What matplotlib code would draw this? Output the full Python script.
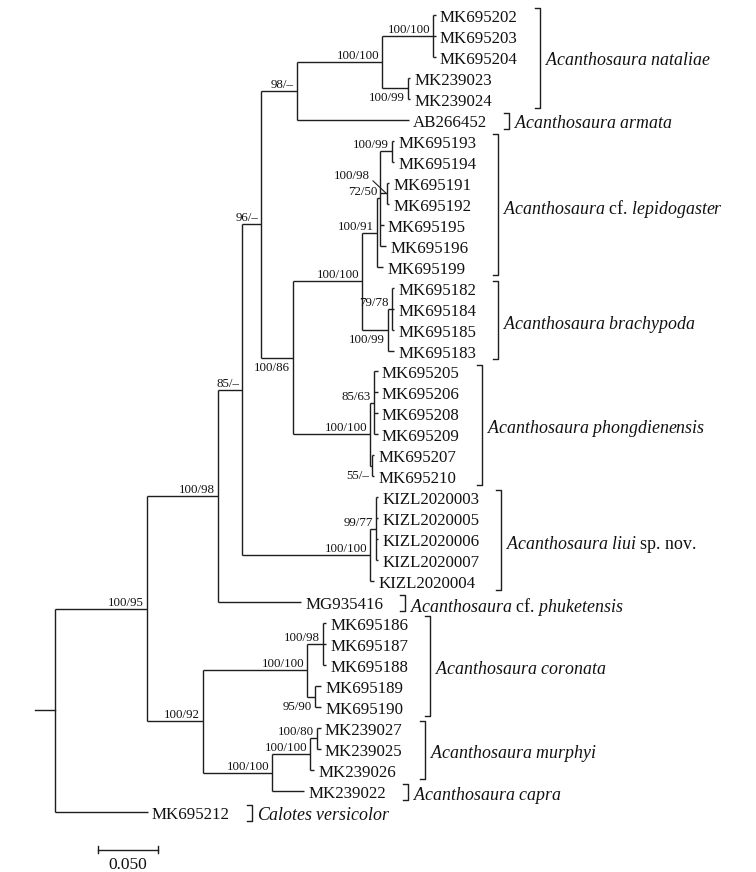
import matplotlib
matplotlib.use('Agg')
import matplotlib.pyplot as plt

plt.rcParams['font.family'] = ['Liberation Serif', 'DejaVu Serif']
plt.rcParams['mathtext.fontset'] = 'custom'
plt.rcParams['mathtext.rm'] = 'Liberation Serif'
plt.rcParams['mathtext.it'] = 'Liberation Serif:italic'

# ---------------- data: internal nodes ----------------
node_names = ['root', 'A', 'B', 'C', 'K', 'L', 'M', 'N', 'O', 'P', 'Q', 'R', 'S', 'T',
              'U', 'V', 'W', 'X', 'Y', 'Z', 'AA', 'AB', 'D', 'E', 'F', 'G', 'H', 'I', 'J']
node_parent = [None, 'root', 'A', 'B', 'C', 'K', 'L', 'M', 'M', 'K', 'P', 'Q', 'R', 'S',
               'S', 'Q', 'V', 'P', 'X', 'X', 'C', 'AA', 'A', 'D', 'E', 'E', 'D', 'H', 'I']
node_length = [0.0, 0.0767, 0.0592, 0.0200, 0.0158, 0.0300, 0.0708, 0.0425, 0.0217,
               0.0267, 0.0575, 0.0125, 0.0025, 0.0100, 0.0058, 0.0217, 0.0033, 0.0642,
               0.0033, 0.0017, 0.1067, 0.0050, 0.0467, 0.0867, 0.0133, 0.0067, 0.0575,
               0.0317, 0.0058]
node_support = ['', '100/95', '100/98', '85/–', '96/–', '98/–', '100/100', '100/100',
                '100/99', '100/86', '100/100', '100/91', '72/50', '100/99', '100/98',
                '100/99', '79/78', '100/100', '85/63', '55/–', '100/100', '99/77',
                '100/92', '100/100', '100/98', '95/90', '100/100', '100/100', '100/80']

# ---------------- data: tips (display order) ----------------
tip_names = ['MK695202', 'MK695203', 'MK695204', 'MK239023', 'MK239024', 'AB266452',
             'MK695193', 'MK695194', 'MK695191', 'MK695192', 'MK695195', 'MK695196',
             'MK695199', 'MK695182', 'MK695184', 'MK695185', 'MK695183', 'MK695205',
             'MK695206', 'MK695208', 'MK695209', 'MK695207', 'MK695210', 'KIZL2020003',
             'KIZL2020005', 'KIZL2020006', 'KIZL2020007', 'KIZL2020004', 'MG935416',
             'MK695186', 'MK695187', 'MK695188', 'MK695189', 'MK695190', 'MK239027',
             'MK239025', 'MK239026', 'MK239022', 'MK695212']
tip_parent = ['N', 'N', 'N', 'O', 'O', 'L', 'T', 'T', 'U', 'U', 'S', 'S', 'R', 'W', 'W',
              'W', 'V', 'Y', 'Y', 'Y', 'Y', 'Z', 'Z', 'AB', 'AB', 'AB', 'AB', 'AA', 'B',
              'F', 'F', 'F', 'G', 'G', 'J', 'J', 'I', 'H', 'root']
tip_length = [0.0025, 0.0025, 0.0025, 0.0017, 0.0017, 0.0933, 0.0017, 0.0017, 0.0017,
              0.0017, 0.0033, 0.0050, 0.0050, 0.0017, 0.0017, 0.0017, 0.0050, 0.0033,
              0.0033, 0.0033, 0.0033, 0.0017, 0.0017, 0.0017, 0.0017, 0.0017, 0.0017,
              0.0033, 0.0692, 0.0025, 0.0025, 0.0025, 0.0050, 0.0050, 0.0033, 0.0033,
              0.0033, 0.0267, 0.0775]

# ---------------- data: species brackets ----------------
species_labels = [r'$\mathit{Acanthosaura\ nataliae}$',
                  r'$\mathit{Acanthosaura\ armata}$',
                  r'$\mathit{Acanthosaura}$ cf. $\mathit{lepidogaster}$',
                  r'$\mathit{Acanthosaura\ brachypoda}$',
                  r'$\mathit{Acanthosaura\ phongdienensis}$',
                  r'$\mathit{Acanthosaura\ liui}$ sp. nov.',
                  r'$\mathit{Acanthosaura}$ cf. $\mathit{phuketensis}$',
                  r'$\mathit{Acanthosaura\ coronata}$',
                  r'$\mathit{Acanthosaura\ murphyi}$',
                  r'$\mathit{Acanthosaura\ capra}$',
                  r'$\mathit{Calotes\ versicolor}$']
species_first = ['MK695202', 'AB266452', 'MK695193', 'MK695182', 'MK695205', 'KIZL2020003',
                 'MG935416', 'MK695186', 'MK239027', 'MK239022', 'MK695212']
species_last = ['MK239024', 'AB266452', 'MK695199', 'MK695183', 'MK695210', 'KIZL2020004',
                'MG935416', 'MK695190', 'MK239026', 'MK239022', 'MK695212']

scale_length = 0.05
scale_label = '0.050'

# ---------------- style / layout ----------------
LC = '#1e1e1e'
LW = 1.0
below_labels = {'O', 'P', 'V', 'Z', 'G'}
leader_labels = {'U'}

# ---------------- tree layout ----------------
parent_of = {n: p for n, p in zip(node_names, node_parent)}
parent_of.update({t: p for t, p in zip(tip_names, tip_parent)})
length_of = {n: l for n, l in zip(node_names, node_length)}
length_of.update({t: l for t, l in zip(tip_names, tip_length)})
children = {n: [] for n in node_names}
for n in node_names[1:]:
    children[parent_of[n]].append(n)
for t in tip_names:
    children[parent_of[t]].append(t)

X = {}
def set_x(n, x0):
    X[n] = x0 + length_of[n]
    for c in children.get(n, []):
        set_x(c, X[n])
set_x('root', 0.0)

Y = {t: i for i, t in enumerate(tip_names)}
def set_y(n):
    if n in Y:
        return Y[n]
    ys = [set_y(c) for c in children[n]]
    Y[n] = (min(ys) + max(ys)) / 2
    return Y[n]
set_y('root')

fig = plt.figure(figsize=(7.56, 8.72), dpi=100)
ax = fig.add_axes([0, 0, 1, 1])
ax.set_xlim(-55 / 1200, 701 / 1200)
ax.set_ylim((872 - 15) / 20.97, -15 / 20.97)
ax.axis('off')

# branches
for n in list(node_names[1:]) + tip_names:
    p = parent_of[n]
    ax.plot([X[p], X[n]], [Y[n], Y[n]], color=LC, lw=LW, solid_capstyle='butt')
for n in node_names:
    ys = [Y[c] for c in children[n]]
    ax.plot([X[n], X[n]], [min(ys), max(ys)], color=LC, lw=LW, solid_capstyle='butt')
# root stub
ax.plot([-0.0167, 0], [Y['root'], Y['root']], color=LC, lw=LW)

# tip labels
tip_text = {}
for t in tip_names:
    tip_text[t] = ax.annotate(t, (X[t], Y[t]), xytext=(4, -1), textcoords='offset pixels',
                              ha='left', va='center_baseline', fontsize=12.2, color='#111')

# support labels
for n, s in zip(node_names, node_support):
    if not s:
        continue
    if n in leader_labels:
        ax.annotate(s, (X[n] - 0.0008, Y[n]), xytext=(-16, 19), textcoords='offset pixels',
                    ha='right', va='center_baseline', fontsize=9.3, color='#111',
                    arrowprops=dict(arrowstyle='-', color=LC, lw=0.8, shrinkA=0, shrinkB=0,
                                    relpos=(1.0, 0.3)))
    elif n in below_labels:
        ax.annotate(s, (X[n], Y[n]), xytext=(-3, -13), textcoords='offset pixels',
                    ha='right', va='baseline', fontsize=9.3, color='#111')
    else:
        ax.annotate(s, (X[n], Y[n]), xytext=(-3, 3), textcoords='offset pixels',
                    ha='right', va='baseline', fontsize=9.3, color='#111')

# species brackets
fig.canvas.draw()
renderer = fig.canvas.get_renderer()
inv = ax.transData.inverted()
for lab, f, l in zip(species_labels, species_first, species_last):
    i0, i1 = tip_names.index(f), tip_names.index(l)
    right = max(tip_text[t].get_window_extent(renderer).x1 for t in tip_names[i0:i1 + 1])
    bx = inv.transform((right + 22, 0))[0]
    tick = inv.transform((right + 17, 0))[0]
    y0, y1 = Y[f] - 0.33, Y[l] + 0.42
    ax.plot([tick, bx, bx, tick], [y0, y0, y1, y1], color=LC, lw=LW)
    ax.annotate(lab, (bx, (y0 + y1) / 2), xytext=(5, -1), textcoords='offset pixels',
                ha='left', va='center_baseline', fontsize=12.9, color='#111')

# scale bar
sx0 = 0.036
sy = 39.8
ax.plot([sx0, sx0 + scale_length], [sy, sy], color=LC, lw=LW)
for xx in (sx0, sx0 + scale_length):
    ax.plot([xx, xx], [sy - 0.18, sy + 0.18], color=LC, lw=LW)
ax.text(sx0 + scale_length / 2, sy + 0.65, scale_label, ha='center', va='center_baseline',
        fontsize=12.5, color='#111')

fig.savefig('out.png', dpi=100, facecolor='white')
